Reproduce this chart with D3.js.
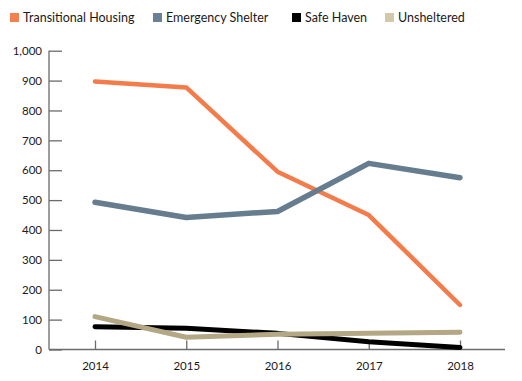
<!DOCTYPE html>
<html>
<head>
<meta charset="utf-8">
<script src="https://cdn.jsdelivr.net/npm/d3@7"></script>
<style>
  body { margin: 0; background: #fff; }
  text { font-family: "Lato", "Noto Sans", sans-serif; fill: #1a1a1a; }
</style>
</head>
<body>
<svg></svg>
<script>
let width = 522;
let height = 381;

let years = [2014, 2015, 2016, 2017, 2018];
let transitional = [897, 877, 595, 450, 149];
let emergency = [493, 442, 462, 623, 575];
let safeHaven = [76, 71, 54, 26, 7];
let unsheltered = [110, 41, 51, 54, 58];
let yTicks = [0, 100, 200, 300, 400, 500, 600, 700, 800, 900, 1000];

let series = [
  {name: "Transitional Housing", values: transitional, colour: "#f47b4a", key: "#f4804f", sw: 4.5},
  {name: "Emergency Shelter", values: emergency, colour: "#667d90", key: "#6a8094", sw: 5.5},
  {name: "Safe Haven", values: safeHaven, colour: "#000000", key: "#000000", sw: 5},
  {name: "Unsheltered", values: unsheltered, colour: "#b4a784", key: "#d3c9a9", sw: 5}
];
let legendX = [10, 153, 292, 385];

let svg = d3.select("svg")
  .attr("width", width)
  .attr("height", height);

let x = d3.scalePoint()
  .domain(years)
  .range([95, 460]);

let y = d3.scaleLinear()
  .domain([0, 1000])
  .range([349.5, 50.7]);

// y axis
let yAxis = svg.append("g")
  .attr("transform", "translate(49,0)")
  .call(d3.axisRight(y).tickValues(yTicks).tickSize(13).tickFormat(d3.format(",")));
yAxis.selectAll("line").attr("stroke", "#6b6b6b").attr("stroke-width", 1.3);
yAxis.select(".domain").remove();
yAxis.selectAll("text")
  .attr("x", -7)
  .attr("text-anchor", "end")
  .style("font-size", "11.5px");

svg.append("line")
  .attr("x1", 49).attr("x2", 49)
  .attr("y1", y(1000)).attr("y2", y(0))
  .attr("stroke", "#6b6b6b").attr("stroke-width", 1.3);

// x axis
let xAxis = svg.append("g")
  .attr("transform", "translate(0," + y(0) + ")")
  .call(d3.axisTop(x).tickSize(9).tickFormat(d3.format("d")));
xAxis.select(".domain").remove();
xAxis.selectAll("line").attr("stroke", "#6b6b6b").attr("stroke-width", 1.3);
xAxis.selectAll("text")
  .attr("y", 17)
  .attr("dy", "0.32em")
  .style("font-size", "11.5px");

svg.append("line")
  .attr("x1", 49).attr("x2", 505)
  .attr("y1", y(0)).attr("y2", y(0))
  .attr("stroke", "#6b6b6b").attr("stroke-width", 1.3);

// lines
let line = d3.line()
  .x((d, i) => x(years[i]))
  .y(d => y(d));

svg.selectAll(".series")
  .data(series)
  .enter()
  .append("path")
    .attr("class", "series")
    .attr("d", d => line(d.values))
    .attr("fill", "none")
    .attr("stroke", d => d.colour)
    .attr("stroke-width", d => d.sw)
    .attr("stroke-linejoin", "round")
    .attr("stroke-linecap", "round");

// legend
let legend = svg.selectAll(".legend")
  .data(series)
  .enter().append("g")
  .attr("class", "legend")
  .attr("transform", (d, i) => "translate(" + legendX[i] + ",13)");

legend.append("rect")
  .attr("width", 9)
  .attr("height", 9)
  .style("fill", d => d.key);

legend.append("text")
  .attr("x", 13)
  .attr("y", 4.5)
  .attr("dy", "0.35em")
  .style("font-size", "12.5px")
  .text(d => d.name);
</script>
</body>
</html>
